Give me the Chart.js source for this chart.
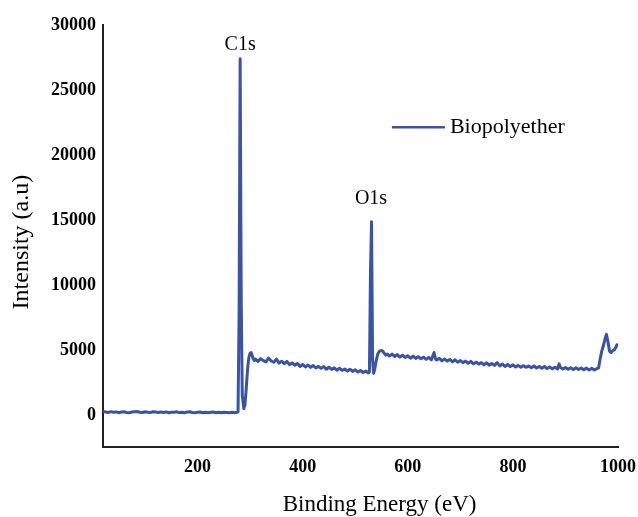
<!DOCTYPE html>
<html>
<head>
<meta charset="utf-8">
<title>XPS survey</title>
<script src="https://cdn.jsdelivr.net/npm/chart.js@4.4.1/dist/chart.umd.min.js"></script>
<style>
  html, body { margin: 0; padding: 0; background: #fff; }
  canvas { display: block; }
</style>
</head>
<body>
<canvas id="xps" width="638" height="517"></canvas>
<script>
// survey spectrum, binding energy (eV) vs counts
var bindingEnergy = [
    20, 25, 30, 35, 40, 45, 50, 55, 60, 65, 70, 75, 80, 85, 90, 95, 100, 105, 110, 115,
    120, 125, 130, 135, 140, 145, 150, 155, 160, 165, 170, 175, 180, 185, 190, 195, 200, 205, 210, 215,
    220, 225, 230, 235, 240, 245, 250, 255, 260, 265, 270, 275,
    277, 279, 281, 283, 285, 288, 290, 292, 294, 296, 298, 300, 302, 304, 306, 308, 310,
    315, 320, 325, 330, 335, 340, 345, 350, 355, 360, 365, 370, 375, 380, 385, 390, 395, 400, 405, 410,
    415, 420, 425, 430, 435, 440, 445, 450, 455, 460, 465, 470, 475, 480, 485, 490, 495, 500, 505, 510,
    515, 520, 525,
    527, 529, 531, 533, 535, 537, 540, 543, 546, 549, 552, 555, 558, 561,
    565, 570, 575, 580, 585, 590, 595, 600, 605, 610, 615, 620, 625, 630, 635, 640, 645, 650, 653, 655,
    660, 665, 670, 675, 680, 685, 690, 695, 700, 705, 710, 715, 720, 725, 730, 735, 740, 745, 750, 755,
    760, 765, 770, 775, 780, 785, 790, 795, 800, 805, 810, 815, 820, 825, 830, 835, 840, 845, 850, 855,
    860, 865, 870, 875, 880, 885, 888, 890, 895, 900, 905, 910, 915, 920, 925, 930, 935, 940, 945, 950,
    955, 960,
    963, 966, 969, 972, 975, 978, 981, 984, 987, 990, 993, 996, 998, 1000
];
var intensity = [
    260, 230, 190, 250, 200, 230, 170, 220, 240, 190, 170, 220, 240, 260, 210, 190, 240, 200, 180, 250,
    220, 190, 230, 180, 230, 170, 210, 200, 240, 180, 210, 170, 220, 240, 190, 160, 200, 220, 170, 210,
    160, 200, 220, 170, 210, 160, 200, 190, 170, 200, 160, 200,
    240, 8000, 27400, 9000, 1500, 480, 750, 1700, 2900, 3900, 4500, 4750, 4800, 4550, 4300, 4180, 4300,
    4120, 4330, 4180, 4080, 4380, 4150, 4050, 4290, 3990, 4130, 3950, 4120, 3870, 3990, 3830, 3960, 3730, 3880, 3690, 3840,
    3660, 3800, 3620, 3730, 3580, 3720, 3510, 3670, 3500, 3620, 3440, 3590, 3430, 3530, 3380, 3510, 3350, 3470, 3300, 3420,
    3260, 3380, 3230,
    3300, 11000, 14870, 4200, 3200, 3500, 4200, 4700, 4900, 4950, 4920, 4750, 4600, 4680,
    4530, 4680, 4500, 4640, 4450, 4590, 4420, 4550, 4360, 4520, 4350, 4480, 4320, 4440, 4270, 4420, 4240, 4800, 4280, 4220,
    4360, 4160, 4300, 4140, 4270, 4080, 4240, 4050, 4180, 4020, 4140, 3970, 4120, 3930, 4060, 3910, 4020, 3850, 4010, 3830,
    3960, 3810, 4020, 3770, 3910, 3730, 3880, 3720, 3850, 3690, 3810, 3670, 3790, 3660, 3770, 3630, 3760, 3610, 3730, 3590,
    3720, 3570, 3690, 3560, 3670, 3540, 3930, 3660, 3530, 3640, 3510, 3630, 3500, 3620, 3490, 3610, 3470, 3600, 3460, 3580,
    3450, 3570,
    3600, 4300, 4900, 5300, 5800, 6200, 5600, 4900, 4800, 4950, 5000, 5200, 5400, 5300
];

var xTicks = [200, 400, 600, 800, 1000];
var yTicks = [0, 5000, 10000, 15000, 20000, 25000, 30000];

// peak annotations: text, energy of the peak, height where the text sits
var peakNames = ['C1s', 'O1s'];
var peakEnergy = [281, 530];
var peakLabelHeight = [28500, 16600];

var seriesName = 'Biopolyether';
var xTitle = 'Binding Energy (eV)';
var yTitle = 'Intensity (a.u)';
var lineColor = '#3b53a4';

var points = bindingEnergy.map(function (e, i) {
    return { x: e, y: intensity[i] };
});

// axis titles, peak names and the in-plot legend
var xpsDecor = {
    id: 'xpsDecor',
    afterDatasetsDraw: function (chart) {
        var ctx = chart.ctx;
        var xs = chart.scales.x;
        var ys = chart.scales.y;
        var area = chart.chartArea;

        ctx.save();
        ctx.fillStyle = '#000';
        ctx.textAlign = 'center';
        ctx.textBaseline = 'middle';

        ctx.font = '20px "Liberation Serif"';
        for (var i = 0; i < peakNames.length; i++) {
            ctx.fillText(peakNames[i], xs.getPixelForValue(peakEnergy[i]), ys.getPixelForValue(peakLabelHeight[i]));
        }

        ctx.font = '23px "Liberation Serif"';
        ctx.fillText(xTitle, area.left + area.width * 0.537, area.bottom + 58);

        ctx.save();
        ctx.translate(area.left - 81, area.top + area.height * 0.514);
        ctx.rotate(-Math.PI / 2);
        ctx.font = '24px "Liberation Serif"';
        ctx.fillText(yTitle, 0, 0);
        ctx.restore();

        var lx = area.left + area.width * 0.561;
        var ly = area.top + area.height * 0.242;
        ctx.strokeStyle = lineColor;
        ctx.lineWidth = 2.5;
        ctx.beginPath();
        ctx.moveTo(lx, ly);
        ctx.lineTo(lx + 53, ly);
        ctx.stroke();
        ctx.font = '22px "Liberation Serif"';
        ctx.textAlign = 'left';
        ctx.fillText(chart.data.datasets[0].label, lx + 58, ly);
        ctx.restore();
    }
};

var tickFont = { family: 'Liberation Serif', weight: 'bold', size: 18 };

function plainNumber(v) {
    return String(v);
}

new Chart(document.getElementById('xps'), {
    type: 'line',
    data: {
        datasets: [{
            label: seriesName,
            data: points,
            borderColor: lineColor,
            borderWidth: 3,
            borderJoinStyle: 'round',
            pointRadius: 0,
            tension: 0,
            fill: false
        }]
    },
    options: {
        responsive: false,
        animation: false,
        layout: { padding: { top: 25, right: 0, bottom: 30, left: 44 } },
        plugins: {
            legend: { display: false },
            tooltip: { enabled: false }
        },
        scales: {
            x: {
                type: 'linear',
                min: 20,
                max: 1000,
                afterBuildTicks: function (scale) {
                    scale.ticks = xTicks.map(function (v) { return { value: v }; });
                },
                // let the "1000" label run up to the canvas edge
                afterFit: function (scale) {
                    scale.paddingRight = 20;
                },
                grid: { display: false, drawTicks: false },
                border: { display: true, color: '#222', width: 2 },
                ticks: { color: '#000', font: tickFont, padding: 9, maxRotation: 0, callback: plainNumber }
            },
            y: {
                min: -2500,
                max: 30000,
                afterBuildTicks: function (scale) {
                    scale.ticks = yTicks.map(function (v) { return { value: v }; });
                },
                grid: { display: false, drawTicks: false },
                border: { display: true, color: '#222', width: 2 },
                ticks: { color: '#000', font: tickFont, padding: 7, callback: plainNumber }
            }
        }
    },
    plugins: [xpsDecor]
});
</script>
</body>
</html>
